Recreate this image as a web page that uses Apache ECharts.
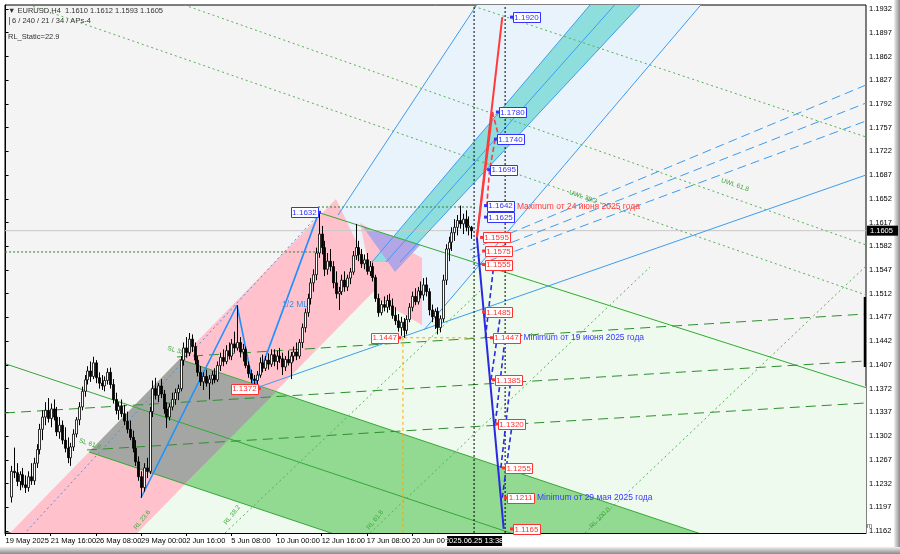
<!DOCTYPE html>
<html><head><meta charset="utf-8">
<script src="https://cdn.jsdelivr.net/npm/echarts@6/dist/echarts.min.js"></script>
<style>html,body{margin:0;padding:0;background:#fff}#c{width:900px;height:554px}</style>
</head><body><div id="c"></div>
<script>
// ---------- DATA ----------
const xLabelIdx = [0,16,32,48,64,80,96,112,128,144];
const xLabelText = ['19 May 2025','21 May 16:00','26 May 08:00','29 May 00:00','2 Jun 16:00','5 Jun 08:00','10 Jun 00:00','12 Jun 16:00','17 Jun 08:00','20 Jun 00:00'];
const priceTicks = [1.1162,1.1197,1.1232,1.1267,1.1302,1.1337,1.1372,1.1407,1.1442,1.1477,1.1512,1.1547,1.1582,1.1617,1.1652,1.1687,1.1722,1.1757,1.1792,1.1827,1.1862,1.1897,1.1932];
const firstBar = 2;
// [open, high, low, close] per H4 bar
const ohlc = [
[1.1212,1.1258,1.1204,1.1250],[1.1250,1.1285,1.1240,1.1248],[1.1248,1.1262,1.1228,1.1235],[1.1235,1.1250,1.1222,1.1245],
[1.1245,1.1255,1.1226,1.1230],[1.1230,1.1244,1.1218,1.1226],[1.1226,1.1250,1.1220,1.1242],[1.1242,1.1262,1.1230,1.1236],
[1.1236,1.1270,1.1230,1.1262],[1.1262,1.1290,1.1255,1.1282],[1.1282,1.1320,1.1275,1.1312],[1.1312,1.1340,1.1296,1.1330],
[1.1330,1.1352,1.1318,1.1340],[1.1340,1.1358,1.1322,1.1328],[1.1328,1.1350,1.1315,1.1342],[1.1342,1.1356,1.1325,1.1330],
[1.1330,1.1345,1.1302,1.1308],[1.1308,1.1330,1.1298,1.1318],[1.1318,1.1325,1.1290,1.1296],[1.1296,1.1315,1.1278,1.1284],
[1.1284,1.1300,1.1262,1.1270],[1.1270,1.1292,1.1258,1.1286],[1.1286,1.1312,1.1280,1.1305],[1.1305,1.1330,1.1300,1.1326],
[1.1326,1.1352,1.1318,1.1345],[1.1345,1.1375,1.1340,1.1368],[1.1368,1.1392,1.1360,1.1385],[1.1385,1.1405,1.1378,1.1398],
[1.1398,1.1412,1.1382,1.1390],[1.1390,1.1419,1.1386,1.1410],[1.1410,1.1414,1.1380,1.1388],[1.1388,1.1396,1.1372,1.1380],
[1.1380,1.1392,1.1370,1.1376],[1.1376,1.1390,1.1368,1.1384],[1.1384,1.1402,1.1378,1.1396],[1.1396,1.1403,1.1372,1.1378],
[1.1378,1.1386,1.1350,1.1356],[1.1356,1.1366,1.1334,1.1340],[1.1340,1.1352,1.1326,1.1346],[1.1346,1.1356,1.1330,1.1335],
[1.1335,1.1348,1.1318,1.1324],[1.1324,1.1338,1.1306,1.1312],[1.1312,1.1325,1.1296,1.1300],[1.1300,1.1310,1.1278,1.1284],
[1.1284,1.1296,1.1258,1.1264],[1.1264,1.1272,1.1236,1.1242],[1.1242,1.1250,1.1211,1.1226],[1.1226,1.1262,1.1220,1.1255],
[1.1255,1.1270,1.1240,1.1250],[1.1250,1.1345,1.1246,1.1338],[1.1338,1.1384,1.1330,1.1372],[1.1372,1.1388,1.1356,1.1362],
[1.1362,1.1380,1.1352,1.1376],[1.1376,1.1386,1.1358,1.1364],[1.1364,1.1370,1.1335,1.1342],[1.1342,1.1352,1.1314,1.1330],
[1.1330,1.1350,1.1325,1.1345],[1.1345,1.1366,1.1340,1.1356],[1.1356,1.1372,1.1348,1.1366],[1.1366,1.1378,1.1355,1.1372],
[1.1372,1.1420,1.1368,1.1414],[1.1414,1.1440,1.1406,1.1432],[1.1432,1.1448,1.1418,1.1425],[1.1425,1.1454,1.1420,1.1445],
[1.1445,1.1452,1.1426,1.1434],[1.1434,1.1440,1.1408,1.1414],[1.1414,1.1420,1.1390,1.1396],[1.1396,1.1405,1.1376,1.1382],
[1.1382,1.1396,1.1370,1.1390],[1.1390,1.1400,1.1375,1.1380],[1.1380,1.1392,1.1356,1.1386],[1.1386,1.1398,1.1378,1.1392],
[1.1392,1.1402,1.1380,1.1385],[1.1385,1.1412,1.1382,1.1406],[1.1406,1.1425,1.1398,1.1418],[1.1418,1.1430,1.1405,1.1412],
[1.1412,1.1436,1.1408,1.1428],[1.1428,1.1440,1.1415,1.1420],[1.1420,1.1445,1.1414,1.1438],[1.1438,1.1456,1.1425,1.1432],
[1.1432,1.1495,1.1428,1.1440],[1.1440,1.1448,1.1418,1.1426],[1.1426,1.1438,1.1412,1.1430],[1.1430,1.1434,1.1402,1.1406],
[1.1406,1.1412,1.1388,1.1394],[1.1394,1.1400,1.1380,1.1386],[1.1386,1.1392,1.1372,1.1384],[1.1384,1.1398,1.1378,1.1392],
[1.1392,1.1418,1.1388,1.1410],[1.1410,1.1422,1.1396,1.1402],[1.1402,1.1420,1.1398,1.1414],[1.1414,1.1424,1.1400,1.1408],
[1.1408,1.1430,1.1404,1.1422],[1.1422,1.1430,1.1405,1.1412],[1.1412,1.1428,1.1400,1.1420],[1.1420,1.1432,1.1410,1.1416],
[1.1416,1.1425,1.1392,1.1404],[1.1404,1.1420,1.1398,1.1415],[1.1415,1.1428,1.1406,1.1410],[1.1410,1.1426,1.1386,1.1420],
[1.1420,1.1434,1.1412,1.1426],[1.1426,1.1440,1.1414,1.1420],[1.1420,1.1445,1.1416,1.1440],[1.1440,1.1468,1.1432,1.1462],
[1.1462,1.1490,1.1455,1.1484],[1.1484,1.1512,1.1478,1.1505],[1.1505,1.1535,1.1496,1.1528],[1.1528,1.1548,1.1515,1.1540],
[1.1540,1.1580,1.1532,1.1572],[1.1572,1.1632,1.1565,1.1600],[1.1600,1.1612,1.1570,1.1580],[1.1580,1.1590,1.1538,1.1548],
[1.1548,1.1572,1.1540,1.1560],[1.1560,1.1578,1.1545,1.1552],[1.1552,1.1560,1.1520,1.1528],[1.1528,1.1545,1.1505,1.1512],
[1.1512,1.1522,1.1488,1.1515],[1.1515,1.1540,1.1510,1.1532],[1.1532,1.1545,1.1515,1.1522],[1.1522,1.1540,1.1516,1.1535],
[1.1535,1.1550,1.1526,1.1544],[1.1544,1.1575,1.1540,1.1568],[1.1568,1.1615,1.1562,1.1580],[1.1580,1.1590,1.1560,1.1570],
[1.1570,1.1578,1.1550,1.1556],[1.1556,1.1570,1.1548,1.1562],[1.1562,1.1572,1.1540,1.1545],[1.1545,1.1560,1.1538,1.1552],
[1.1552,1.1558,1.1530,1.1536],[1.1536,1.1540,1.1500,1.1505],[1.1505,1.1512,1.1478,1.1484],[1.1484,1.1502,1.1480,1.1496],
[1.1496,1.1508,1.1486,1.1492],[1.1492,1.1510,1.1484,1.1502],[1.1502,1.1512,1.1488,1.1494],[1.1494,1.1505,1.1475,1.1480],
[1.1480,1.1492,1.1466,1.1472],[1.1472,1.1482,1.1456,1.1462],[1.1462,1.1478,1.1450,1.1470],[1.1470,1.1476,1.1447,1.1458],
[1.1458,1.1480,1.1452,1.1474],[1.1474,1.1498,1.1470,1.1492],[1.1492,1.1515,1.1486,1.1508],[1.1508,1.1520,1.1495,1.1500],
[1.1500,1.1522,1.1496,1.1516],[1.1516,1.1530,1.1505,1.1510],[1.1510,1.1535,1.1502,1.1525],[1.1525,1.1536,1.1508,1.1515],
[1.1515,1.1520,1.1480,1.1488],[1.1488,1.1496,1.1470,1.1478],[1.1478,1.1490,1.1460,1.1486],[1.1486,1.1492,1.1452,1.1462],
[1.1462,1.1480,1.1455,1.1475],[1.1475,1.1540,1.1470,1.1532],[1.1532,1.1585,1.1525,1.1578],[1.1578,1.1596,1.1560,1.1588],
[1.1588,1.1610,1.1575,1.1602],[1.1602,1.1622,1.1590,1.1610],[1.1610,1.1628,1.1598,1.1620],[1.1620,1.1642,1.1608,1.1615],
[1.1615,1.1630,1.1600,1.1622],[1.1622,1.1635,1.1604,1.1610],[1.1610,1.1626,1.1598,1.1612],[1.1610,1.1612,1.1593,1.1605]
];
const lastPrice = 1.1605;
const cursorBar = 166;
const cursorText = '2025.06.25 13:38';

// filled drawing objects (bar index, price)
const paleGreenArea = [[33.48,1.11030],[146.68,1.15919],[352.35,1.13101],[352.35,1.08242],[33.48,1.08242]];
const paleBlueArea = [[117.8,1.16281],[168.1,1.19453],[247.84,1.19453],[148.27,1.14585]];
const greenBand = [[61.65,1.14153],[352.35,1.10098],[352.35,1.08286],[29.58,1.12785]];
const pinkBand = [[-12.58,1.10986],[117.09,1.16517],[131.98,1.15219],[33.48,1.11030]];
const grayOverlap = [[29.58,1.12785],[61.65,1.14153],[95.73,1.13665],[63.56,1.12312]];
const pinkBox = [[125.6,1.16163],[147.57,1.15647],[147.57,1.14659],[130.91,1.15057]];
const cyanBand = [[129.85,1.15588],[208.58,1.19453],[226.47,1.19453],[139.77,1.15588]];
const purpleCut = [[126.65,1.16104],[146.86,1.15839],[138.0,1.15440]];

// line objects: [[i1,p1],[i2,p2]]
const zigzag = [[[48,1.1211],[82,1.1495]],[[82,1.1495],[88,1.1372]],[[88,1.1372],[111,1.1632]]];
const blueThin = [[[88.75,1.13729],[304.87,1.16871]],[[117.8,1.16281],[168.1,1.19453]],[[148.27,1.14585],[247.84,1.19453]],
  [[129.85,1.15588],[208.58,1.19453]],[[139.77,1.15588],[226.47,1.19453]],[[134.81,1.15588],[217.36,1.19453]]];
const blueFanDashed = [[[164.56,1.15765],[304.87,1.18199]],[[165.27,1.15647],[304.87,1.17933]],[[166.34,1.15529],[304.87,1.17668]]];
const blueDotted = [[[5.14,1.11511],[111.43,1.16311]]];
const greenSolid = [[[111.43,1.16311],[352.35,1.13101]],[[61.65,1.14153],[352.35,1.10098]],[[0.18,1.14083],[352.35,1.09172]],[[29.58,1.12785],[352.35,1.08286]]];
const greenDashed = [[[-0.18,1.13361],[304.87,1.14128]],[[28.87,1.12815],[304.87,1.13508]],[[60.76,1.14187],[304.87,1.14821]]];
const greenDotted = [[[58.28,1.19453],[304.87,1.15840]],[[159.25,1.19453],[304.87,1.17432]],[[-1.95,1.19527],[304.87,1.15101]],
  [[77.77,1.11590],[168.11,1.15160]],[[129.14,1.11590],[228.34,1.15514]],[[205.31,1.11590],[304.87,1.15529]]];
const darkDottedLevels = [[[-0.18,1.15736],[111.43,1.15736]],[[110.7,1.16399],[166.3,1.16399]]];
const priceLine = [[[-0.18,1.1605],[304.87,1.1605]]];
const cursorLines = [[[166,1.1159],[166,1.1938]],[[177,1.1159],[177,1.1938]]];
const rangeBar = [[[304.6,1.15072],[304.6,1.14039]]];
const orangeDashed = [[[139.1,1.1447],[166,1.1447]],[[140.8,1.1447],[140.8,1.1159]]];
const redSolid = [[[167,1.1595],[176,1.1920]],[[167,1.1595],[172.5,1.1780]]];
const redDashed = [[[172.5,1.1780],[175,1.1740]],[[173.5,1.1740],[171.5,1.1695]],[[171.5,1.1695],[170.5,1.1642]]];
const blueSolidProj = [[[167,1.1595],[176.5,1.1165]]];
const blueDashedProj = [[[170,1.1447],[173,1.1555]],[[172,1.1385],[175.5,1.1485]],[[173.5,1.1320],[177,1.1447]],[[175.5,1.1255],[179,1.1385]],[[176,1.1211],[179.5,1.1320]]];

// price tags
const blueTags = [[179.8,1.1920],[174.8,1.1780],[174.1,1.1740],[171.7,1.1695],[170.6,1.1642],[170.6,1.1625]];
const blueTagText = ['1.1920','1.1780','1.1740','1.1695','1.1642','1.1625'];
const redTags = [[169.2,1.1595],[169.9,1.1575],[169.9,1.1555],[169.9,1.1485],[172.7,1.1447],[173.4,1.1385],[174.5,1.1320],[177,1.1255],[177.7,1.1211],[179.8,1.1165]];
const redTagText = ['1.1595','1.1575','1.1555','1.1485','1.1447','1.1385','1.1320','1.1255','1.1211','1.1165'];
const leftTags = [[110.7,1.1632]];
const leftTagText = ['1.1632'];
const leftTagsRed = [[139.1,1.1447],[89.4,1.1372]];
const leftTagRedText = ['1.1447','1.1372'];
const notes = [[181.2,1.1641],[183.5,1.1447],[188.3,1.1211],[97.96,1.14954]];
const noteText = ['Maximum от 24 июня 2025 года','Minimum от 19 июня 2025 года','Minimum от 29 мая 2025 года','1/2 ML'];
const levelLabels = [[48.36,1.11782],[80.25,1.11855],[130.91,1.11782],[210.6,1.11811],[204.6,1.16547],[258.45,1.16724],[29.9,1.12904],[61.2,1.14270]];
const levelLabelText = ['RL 23.6','RL 38.2','RL 61.8','RL 100.0','UWL 38.2','UWL 61.8','SL 61.8','SL 38.2'];
const levelLabelTilt = [0.9,0.9,0.9,0.8,-0.33,-0.33,-0.3,-0.3];

// ---------- CHART ----------
const FONT = 'Liberation Sans, Arial, sans-serif';
const chart = echarts.init(document.getElementById('c'));
function segData(a){return a.map(s=>[s[0][0],s[0][1],s[1][0],s[1][1]]);}
function lineSeries(segs, stroke, width, dash, z){
  return {type:'custom', clip:true, silent:true, z:z||3, data:segData(segs), encode:{x:[0,2],y:[1,3]},
    renderItem:(p,api)=>{const a=api.coord([api.value(0),api.value(1)]),b=api.coord([api.value(2),api.value(3)]);
      return {type:'line',shape:{x1:a[0],y1:a[1],x2:b[0],y2:b[1]},style:{stroke:stroke,lineWidth:width,lineDash:dash||null}};}};
}
function polySeries(pts, fill, z){
  return {type:'custom', clip:true, silent:true, z:z, data:[pts[0]], encode:{x:0,y:1},
    renderItem:(p,api)=>({type:'polygon',shape:{points:pts.map(q=>api.coord(q))},style:{fill:fill}})};
}
function tagSeries(pts, texts, color, alignRight){
  return {type:'custom', clip:false, silent:true, z:20, data:pts.map(q=>[q[0],q[1]]), encode:{x:0,y:1},
    renderItem:(p,api)=>{const c=api.coord([api.value(0),api.value(1)]);const w=27,h=10;
      const x0 = alignRight ? c[0]-w : c[0];
      return {type:'group',children:[
        {type:'rect',shape:{x:Math.round(x0)+0.5,y:Math.round(c[1]-h/2)+0.5,width:w,height:h},style:{fill:'#fff',stroke:color,lineWidth:1}},
        {type:'text',x:x0+w/2,y:c[1]+0.5,style:{text:texts[p.dataIndex],fill:color,font:'8px '+FONT,align:'center',verticalAlign:'middle'}},
        {type:'rect',shape:{x:(alignRight?x0+w:x0-3),y:c[1]-1.5,width:3,height:3},style:{fill:color}}
      ]};}};
}
function noteSeries(pts, texts, colors){
  return {type:'custom', clip:false, silent:true, z:20, data:pts.map(q=>[q[0],q[1]]), encode:{x:0,y:1},
    renderItem:(p,api)=>{const c=api.coord([api.value(0),api.value(1)]);
      return {type:'text',x:c[0],y:c[1],style:{text:texts[p.dataIndex],fill:colors[p.dataIndex],font:'8.5px '+FONT,verticalAlign:'middle'}};}};
}
function tiltSeries(pts, texts, tilt, color){
  return {type:'custom', clip:true, silent:true, z:8, data:pts.map(q=>[q[0],q[1]]), encode:{x:0,y:1},
    renderItem:(p,api)=>{const c=api.coord([api.value(0),api.value(1)]);
      return {type:'text',x:c[0],y:c[1],rotation:tilt[p.dataIndex],style:{text:texts[p.dataIndex],fill:color,font:'6.5px '+FONT,align:'center',verticalAlign:'middle'}};}};
}
const series = [
  polySeries(paleGreenArea,'#eefaee',1),
  polySeries(paleBlueArea,'#e9f3fc',1.1),
  polySeries(greenBand,'#92da92',1.2),
  polySeries(pinkBand,'#ffc2cc',1.3),
  polySeries(grayOverlap,'#a4a6a4',1.4),
  polySeries(pinkBox,'#ffc2cc',1.45),
  polySeries(cyanBand,'#8fdede',1.5),
  polySeries(purpleCut,'#b3a6e6',1.55),
  lineSeries(priceLine,'#c8c8c8',1,null,2),
  lineSeries(greenSolid,'#33a833',1,null,3),
  lineSeries(greenDashed,'#2f8f2f',1,[10,6],3),
  lineSeries(greenDotted,'#55b055',1,[2,3],3),
  lineSeries(darkDottedLevels,'#2f7f2f',1,[2,2],3),
  lineSeries(blueThin,'#3c9cf0',1,null,3),
  lineSeries(blueFanDashed,'#3c9cf0',1,[9,5],3),
  lineSeries(blueDotted,'#4a90e2',1,[2,3],3),
  lineSeries(orangeDashed,'#ffa500',1,[3,3],3),
  lineSeries(cursorLines,'#000',1,[2,2],4),
  lineSeries(rangeBar,'#000',3,null,4),
  lineSeries(zigzag,'#1e90ff',1.6,null,5),
  lineSeries(redSolid,'#ff3b3b',2,null,6),
  lineSeries(redDashed,'#ff3b3b',1.6,[5,3],6),
  lineSeries(blueSolidProj,'#2a2ae0',2,null,6),
  lineSeries(blueDashedProj,'#2a2ae0',1.6,[5,3],6),
  tiltSeries(levelLabels,levelLabelText,levelLabelTilt,'#3ca83c'),
  {type:'custom', clip:true, silent:true, z:10, data:ohlc.map((r,k)=>[k+firstBar,r[0],r[1],r[2],r[3]]), encode:{x:0,y:[1,2,3,4]},
   renderItem:(p,api)=>{const i=api.value(0),o=api.value(1),h=api.value(2),l=api.value(3),c=api.value(4);
     const ph=api.coord([i,h]),pl=api.coord([i,l]),po=api.coord([i,o]),pc=api.coord([i,c]);
     const x=Math.round(ph[0])+0.5;const t=Math.min(po[1],pc[1]),b=Math.max(po[1],pc[1]);
     return {type:'group',children:[
       {type:'line',shape:{x1:x,y1:ph[1],x2:x,y2:pl[1]},style:{stroke:'#000',lineWidth:1}},
       {type:'rect',shape:{x:x-1,y:t,width:2,height:Math.max(b-t,1)},style:{fill:c>=o?'#fff':'#000',stroke:'#000',lineWidth:0.8}}]};}},
  tagSeries(blueTags,blueTagText,'#3232ff',false),
  tagSeries(redTags,redTagText,'#ff3232',false),
  tagSeries(leftTags,leftTagText,'#3232ff',true),
  tagSeries(leftTagsRed,leftTagRedText,'#ff3232',true),
  noteSeries(notes,noteText,['#ff3b3b','#3a3aff','#3a3aff','#3c8ee8']),
  {type:'custom', clip:false, silent:true, z:30, data:[[304.87,lastPrice]], encode:{x:0,y:1},
   renderItem:(p,api)=>{const c=api.coord([api.value(0),api.value(1)]);
     return {type:'group',children:[{type:'rect',shape:{x:c[0]+1,y:c[1]-5,width:31,height:10},style:{fill:'#000'}},
       {type:'text',x:c[0]+4,y:c[1],style:{text:lastPrice.toFixed(4),fill:'#fff',font:'7.5px '+FONT,verticalAlign:'middle'}}]};}},
  {type:'custom', clip:false, silent:true, z:30, data:[[cursorBar,1.1159]], encode:{x:0,y:1},
   renderItem:(p,api)=>{const c=api.coord([api.value(0),api.value(1)]);
     return {type:'group',children:[{type:'rect',shape:{x:c[0]-27,y:c[1]+3,width:55,height:10},style:{fill:'#000'}},
       {type:'text',x:c[0],y:c[1]+8,style:{text:cursorText,fill:'#fff',font:'7.5px '+FONT,align:'center',verticalAlign:'middle'}}]};}}
];
chart.setOption({
  animation:false, backgroundColor:'#ffffff',
  grid:{left:5,top:5,right:34,bottom:21,show:true,backgroundColor:'#f4f4f4',borderColor:'#000',borderWidth:1},
  xAxis:{type:'value',min:-0.2,max:304.87,splitLine:{show:false},axisLine:{show:true,lineStyle:{color:'#000'}},
    axisTick:{show:true,customValues:xLabelIdx,length:3,lineStyle:{color:'#000'}},
    axisLabel:{customValues:xLabelIdx,formatter:v=>xLabelText[xLabelIdx.indexOf(Math.round(v))]||'',align:'left',color:'#000',fontSize:7.5,fontFamily:FONT,margin:4}},
  yAxis:{type:'value',position:'right',min:1.11590,max:1.19379,splitLine:{show:false},axisLine:{show:true,lineStyle:{color:'#000'}},
    axisTick:{show:true,customValues:priceTicks,length:3,lineStyle:{color:'#000'}},
    axisLabel:{customValues:priceTicks,formatter:v=>v.toFixed(4),color:'#000',fontSize:7.5,fontFamily:FONT,margin:3}},
  graphic:[
    {type:'text',left:8,top:7,style:{text:'▼ EURUSD,H4  1.1610 1.1612 1.1593 1.1605',fill:'#333',font:'7.5px '+FONT}},
    {type:'rect',left:9,top:17,shape:{width:1,height:8},style:{fill:'#3a7bd5'}},
    {type:'text',left:12,top:17,style:{text:'6 / 240 / 21 / 34 / APs-4',fill:'#333',font:'7.5px '+FONT}},
    {type:'text',left:8,top:33,style:{text:'RL_Static=22.9',fill:'#333',font:'7.5px '+FONT}},
    {type:'text',left:812,top:510,style:{text:'APLs & ZUP',fill:'#333',font:'9px Liberation Serif, serif'}},
    {type:'text',left:820,top:523,style:{text:'Gelox @ mt5.com',fill:'#555',font:'6.5px '+FONT}},
    {type:'rect',left:894,top:0,shape:{width:6,height:554},style:{fill:new echarts.graphic.LinearGradient(0,0,1,0,[{offset:0,color:'#f0f0f0'},{offset:1,color:'#8a8a8a'}])}},
    {type:'rect',left:0,top:547,shape:{width:900,height:7},style:{fill:new echarts.graphic.LinearGradient(0,0,0,1,[{offset:0,color:'#f0f0f0'},{offset:1,color:'#8a8a8a'}])}}
  ],
  series:series
});
</script></body></html>
